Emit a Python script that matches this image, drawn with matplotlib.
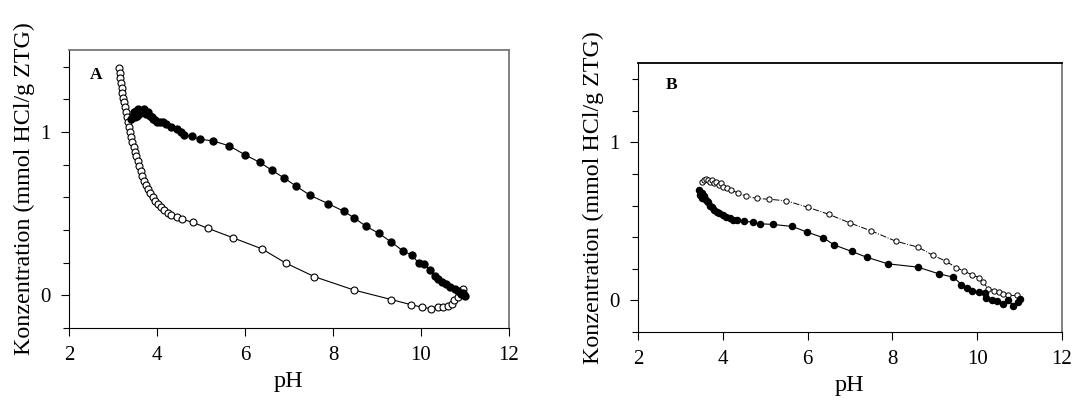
import matplotlib
matplotlib.use("Agg")
import matplotlib.pyplot as plt
from matplotlib.ticker import MultipleLocator

plt.rcParams['font.family'] = ['Liberation Serif', 'DejaVu Serif']

# Panel A - open circles (dense steep part then sparse)
a_open_ph = [3.14, 3.15, 3.16, 3.18, 3.20, 3.21, 3.23, 3.25, 3.27, 3.29, 3.31, 3.34,
             3.36, 3.38, 3.41, 3.44, 3.47, 3.50, 3.53, 3.56, 3.60, 3.63, 3.67, 3.71,
             3.75, 3.80, 3.85, 3.90, 3.96, 4.02, 4.09, 4.16, 4.24, 4.33, 4.45, 4.58,
             4.81, 5.17, 5.73, 6.38, 6.93, 7.58, 8.47, 9.33, 9.77, 10.03, 10.23,
             10.38, 10.51, 10.61, 10.70, 10.76, 10.85, 10.96]
a_open_c = [1.39, 1.36, 1.33, 1.30, 1.27, 1.24, 1.21, 1.18, 1.15, 1.12, 1.09, 1.06,
            1.03, 1.00, 0.97, 0.94, 0.91, 0.88, 0.85, 0.82, 0.79, 0.76, 0.73, 0.70,
            0.675, 0.65, 0.625, 0.60, 0.58, 0.56, 0.54, 0.52, 0.505, 0.49, 0.48, 0.465,
            0.447, 0.409, 0.352, 0.285, 0.197, 0.114, 0.033, -0.026, -0.057, -0.073, -0.081,
            -0.069, -0.069, -0.065, -0.05, -0.03, -0.01, 0.037]

# Panel A - filled circles
a_fill_ph = [3.42, 3.45, 3.47, 3.50, 3.52, 3.55, 3.58, 3.60, 3.63, 3.66, 3.70, 3.73,
             3.76, 3.80, 3.84, 3.88, 3.92, 3.96, 3.99, 4.08, 4.14, 4.20, 4.33, 4.45,
             4.54, 4.62, 4.79, 4.98, 5.27, 5.64, 6.00, 6.34, 6.62, 6.89, 7.17, 7.48,
             7.89, 8.25, 8.48, 8.75, 9.04, 9.33, 9.60, 9.80, 9.95, 10.08, 10.20, 10.33,
             10.39, 10.47, 10.58, 10.67, 10.77, 10.85, 10.92, 10.96, 11.00, 10.98]
a_fill_c = [1.08, 1.10, 1.12, 1.09, 1.13, 1.10, 1.14, 1.11, 1.13, 1.12, 1.14, 1.12,
            1.11, 1.12, 1.10, 1.09, 1.08, 1.07, 1.063, 1.06, 1.063, 1.049, 1.028, 1.016,
            1.002, 0.982, 0.972, 0.955, 0.945, 0.915, 0.860, 0.813, 0.764, 0.718, 0.667, 0.612,
            0.561, 0.514, 0.474, 0.423, 0.380, 0.325, 0.270, 0.246, 0.195, 0.189, 0.154, 0.118,
            0.098, 0.081, 0.067, 0.053, 0.037, 0.026, 0.006, 0.016, -0.004, 0.0]

# Panel B - open circles
b_open_ph = [3.50, 3.55, 3.60, 3.65, 3.70, 3.75, 3.80, 3.85, 3.90, 3.95, 4.00, 4.10,
             4.20, 4.35, 4.55, 4.80, 5.10, 5.50, 6.00, 6.50, 7.00, 7.50, 8.08, 8.61,
             8.96, 9.26, 9.51, 9.69, 9.87, 10.05, 10.14, 10.26, 10.40, 10.52, 10.62,
             10.73, 10.93]
b_open_c = [0.75, 0.76, 0.77, 0.76, 0.75, 0.76, 0.74, 0.75, 0.73, 0.74, 0.72, 0.71,
            0.70, 0.68, 0.66, 0.645, 0.64, 0.63, 0.59, 0.545, 0.49, 0.44, 0.375, 0.337,
            0.285, 0.249, 0.207, 0.186, 0.163, 0.144, 0.116, 0.074, 0.063, 0.053, 0.042,
            0.032, 0.032]

# Panel B - filled circles
b_fill_ph = [3.45, 3.47, 3.50, 3.52, 3.55, 3.58, 3.62, 3.66, 3.70, 3.75, 3.80, 3.86,
             3.92, 4.00, 4.08, 4.16, 4.25, 4.33, 4.50, 4.71, 4.89, 5.18, 5.64, 5.99,
             6.37, 6.62, 7.04, 7.39, 7.89, 8.60, 9.09, 9.44, 9.63, 9.77, 9.87, 10.05,
             10.18, 10.22, 10.34, 10.46, 10.60, 10.73, 10.85, 10.97, 11.01]
b_fill_c = [0.70, 0.67, 0.68, 0.65, 0.66, 0.64, 0.63, 0.62, 0.60, 0.59, 0.57, 0.56,
            0.55, 0.54, 0.53, 0.52, 0.51, 0.506, 0.50, 0.496, 0.485, 0.481, 0.468, 0.432,
            0.397, 0.352, 0.310, 0.274, 0.232, 0.211, 0.169, 0.147, 0.101, 0.080, 0.059, 0.053,
            0.046, 0.017, 0.004, -0.004, -0.021, 0.0, -0.032, -0.011, 0.011]

ylabel = "Konzentration (mmol HCl/g ZTG)"


def style_axes(ax, top_color):
    ax.set_xlim(2, 12)
    ax.set_ylim(-0.2, 1.5)
    ax.set_xticks([2, 4, 6, 8, 10, 12])
    ax.set_yticks([0, 1])
    ax.yaxis.set_minor_locator(MultipleLocator(0.2))
    ax.tick_params(axis='both', which='major', direction='out', length=6,
                   width=0.8, labelsize=15, pad=7)
    ax.tick_params(axis='y', which='minor', direction='out', length=4, width=0.8)
    ax.spines['right'].set_color('#777777')
    ax.spines['right'].set_linewidth(1.3)
    ax.spines['top'].set_color(top_color)
    ax.spines['top'].set_linewidth(1.3)
    ax.set_xlabel("pH", fontsize=17.5)
    ax.set_ylabel(ylabel, fontsize=17.3)


fig = plt.figure(figsize=(10.74, 4.08), dpi=100)

ax1 = fig.add_axes([0.0642, 0.196, 0.4097, 0.681])
ax1.plot(a_open_ph, a_open_c, '-', color='black', lw=0.8, marker='o', ms=5,
         mfc='white', mec='black', mew=0.8)
ax1.plot(a_fill_ph, a_fill_c, '-', color='black', lw=0.8, marker='o', ms=5,
         mfc='black', mec='black')
style_axes(ax1, '#777777')
ax1.text(0.048, 0.91, "A", transform=ax1.transAxes, fontsize=12.5,
         fontweight='bold', va='center')

ax2 = fig.add_axes([0.594, 0.186, 0.3948, 0.659])
ax2.plot(b_open_ph, b_open_c, '-.', color='black', lw=0.7, marker='o', ms=3.8,
         mfc='white', mec='black', mew=0.7)
ax2.plot(b_fill_ph, b_fill_c, '-', color='black', lw=0.8, marker='o', ms=4.4,
         mfc='black', mec='black')
style_axes(ax2, 'black')
ax2.text(0.065, 0.92, "B", transform=ax2.transAxes, fontsize=12.5,
         fontweight='bold', va='center')

fig.savefig("out.png", dpi=100)
